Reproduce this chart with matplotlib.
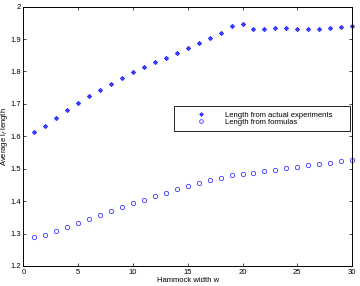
import numpy as np
import matplotlib
matplotlib.use('Agg')
import matplotlib.pyplot as plt

plt.rcParams['font.family'] = 'Liberation Sans'

w = np.arange(1, 31)
actual = [1.612, 1.632, 1.655, 1.680, 1.702, 1.723, 1.744, 1.762, 1.781, 1.797,
          1.813, 1.828, 1.842, 1.857, 1.871, 1.887, 1.904, 1.920, 1.940, 1.946,
          1.931, 1.930, 1.934, 1.934, 1.931, 1.932, 1.931, 1.934, 1.936, 1.940]
formula = [1.288, 1.297, 1.309, 1.320, 1.334, 1.345, 1.358, 1.371, 1.382, 1.393,
           1.405, 1.416, 1.426, 1.437, 1.446, 1.455, 1.464, 1.472, 1.480, 1.485,
           1.488, 1.492, 1.497, 1.501, 1.505, 1.510, 1.514, 1.518, 1.523, 1.527]

fig = plt.figure(figsize=(3.6, 2.86), dpi=100)
ax = fig.add_axes([0.065, 0.070, 0.913, 0.907])

# matlab style asterisk and open circle
ax.plot(w, actual, linestyle='none', marker=(8, 2, 0), color='#3a3aff', markersize=3.4,
        markeredgewidth=0.5, label='Length from actual experiments', clip_on=False)
ax.plot(w, formula, 'o', color='#3a3aff', markerfacecolor='none', markersize=3.1,
        markeredgewidth=0.6, label='Length from formulas', clip_on=False)

ax.set_xlim(0, 30)
ax.set_ylim(1.2, 2.0)
ax.set_xticks([0, 5, 10, 15, 20, 25, 30])
ax.set_yticks([1.2, 1.3, 1.4, 1.5, 1.6, 1.7, 1.8, 1.9, 2.0])
ax.set_yticklabels(['1.2', '1.3', '1.4', '1.5', '1.6', '1.7', '1.8', '1.9', '2'])
ax.tick_params(direction='in', top=True, right=True, labelsize=5.5, length=2.5, width=0.5, pad=2)
for s in ax.spines.values():
    s.set_linewidth(0.7)

ax.set_xlabel('Hammock width w', fontsize=5.5, labelpad=1)
ax.set_ylabel('Average l$_f$ length', fontsize=5.5)
ax.yaxis.set_label_coords(-0.041, 0.5)

leg = ax.legend(loc='lower left', bbox_to_anchor=(0.458, 0.52, 0.536, 0.093), mode='expand',
                fontsize=5.5, fancybox=False, edgecolor='black', framealpha=1,
                borderpad=0.7, handlelength=5.7, handletextpad=0.3,
                labelspacing=-0.1, borderaxespad=0, markerscale=0.85)
leg.get_frame().set_linewidth(0.6)

plt.savefig('out.png', dpi=100)
